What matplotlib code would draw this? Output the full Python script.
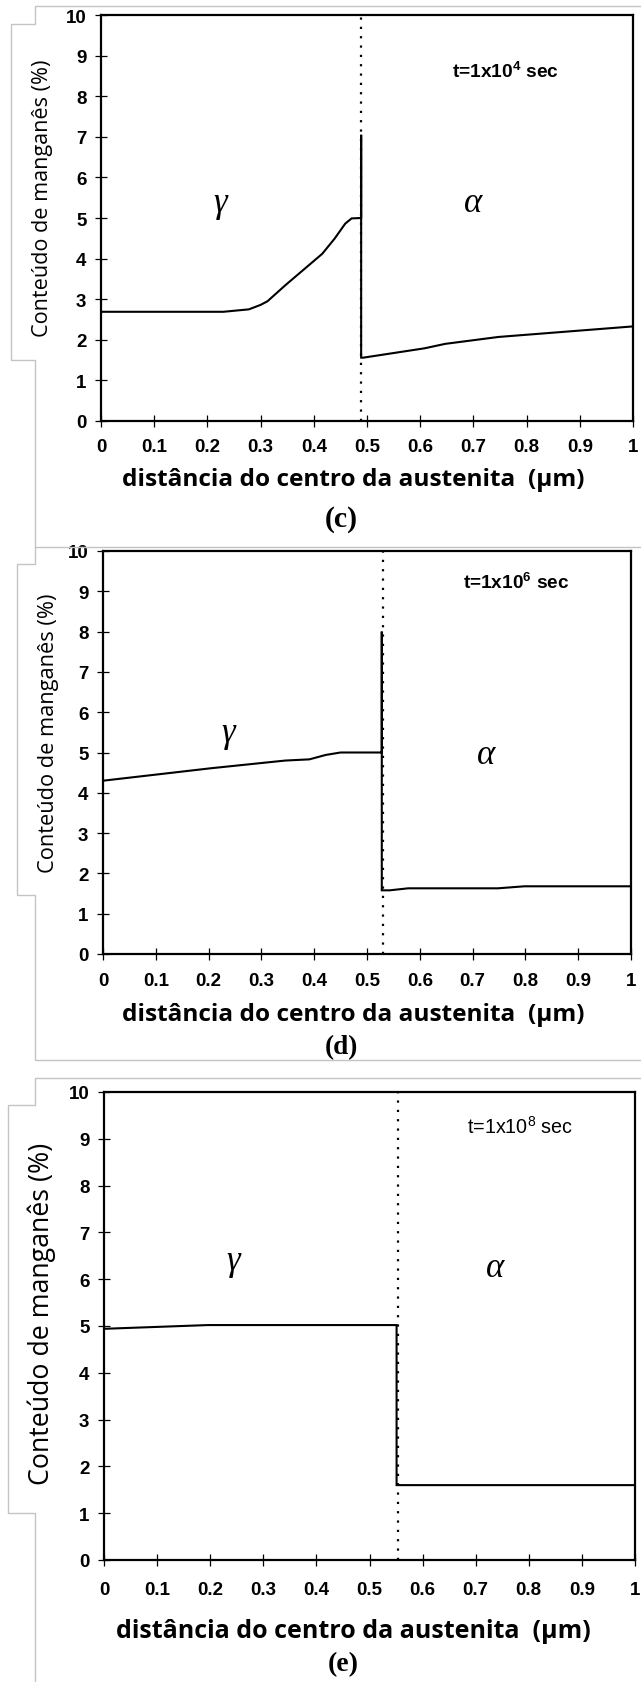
import matplotlib
matplotlib.use("Agg")
import matplotlib.pyplot as plt
from matplotlib.lines import Line2D

plt.rcParams['mathtext.default'] = 'regular'

W, H = 641, 1683

# ---------------- data ----------------
x_ticks = [0, 0.1, 0.2, 0.3, 0.4, 0.5, 0.6, 0.7, 0.8, 0.9, 1]
x_ticklabels = ["0", "0.1", "0.2", "0.3", "0.4", "0.5", "0.6", "0.7", "0.8", "0.9", "1"]
y_ticks = [0, 1, 2, 3, 4, 5, 6, 7, 8, 9, 10]

# panel (c) t = 1e4 s
c_gamma_x = [0, 0.23, 0.278, 0.30, 0.313, 0.347, 0.382, 0.416, 0.439, 0.459, 0.471, 0.489]
c_gamma_y = [2.69, 2.69, 2.75, 2.86, 2.95, 3.35, 3.74, 4.12, 4.49, 4.86, 4.99, 5.0]
c_interface = 0.489
c_peak = 7.05
c_alpha_x = [0.493, 0.608, 0.647, 0.747, 1.0]
c_alpha_y = [1.56, 1.79, 1.90, 2.07, 2.33]

# panel (d) t = 1e6 s
d_gamma_x = [0, 0.205, 0.345, 0.391, 0.422, 0.45, 0.528]
d_gamma_y = [4.30, 4.61, 4.80, 4.83, 4.94, 5.0, 5.0]
d_interface = 0.530
d_peak = 8.0
d_alpha_x = [0.528, 0.543, 0.578, 0.748, 0.798, 1.0]
d_alpha_y = [1.58, 1.58, 1.63, 1.63, 1.68, 1.68]

# panel (e) t = 1e8 s
e_gamma_x = [0, 0.196, 0.551]
e_gamma_y = [4.94, 5.02, 5.02]
e_interface = 0.553
e_alpha_x = [0.551, 1.0]
e_alpha_y = [1.60, 1.60]

times = ["t=1x10$^{4}$ sec", "t=1x10$^{6}$ sec", "t=1x10$^{8}$ sec"]
panel_tags = ["(c)", "(d)", "(e)"]
ylabel = "Conteúdo de manganês (%)"
xlabel = "distância do centro da austenita  (µm)"

# ---------------- figure ----------------
fig = plt.figure(figsize=(W / 100, H / 100), dpi=100)

def fx(px):
    return px / W

def fy(py):
    return 1 - py / H

# gray document text-box outlines
gray = "#c4c4c4"
box_lines = [
    ([641, 35, 35, 11, 11, 35, 35, 17, 17, 35, 35, 641],
     [7, 7, 25, 25, 361, 361, 565, 565, 896, 896, 1061, 1061]),
    ([35, 641], [548, 548]),
    ([641, 35, 35, 8, 8, 35, 35],
     [1079, 1079, 1106, 1106, 1514, 1514, 1683]),
]
for xs, ys in box_lines:
    fig.add_artist(Line2D([fx(v) for v in xs], [fy(v) for v in ys],
                          color=gray, lw=1.0, transform=fig.transFigure))

# axes boxes in pixels: left, right, top, bottom
boxes = [(101, 633, 16, 422), (103, 631, 552, 955), (104, 635, 1093, 1561)]
panels = [
    (c_gamma_x, c_gamma_y, c_interface, c_peak, c_alpha_x, c_alpha_y),
    (d_gamma_x, d_gamma_y, d_interface, d_peak, d_alpha_x, d_alpha_y),
    (e_gamma_x, e_gamma_y, e_interface, None, e_alpha_x, e_alpha_y),
]
t_pos = [(0.76, 8.62), (0.782, 9.24), (0.783, 9.27)]
t_bold = [True, True, False]
g_pos = [(0.224, 5.37), (0.238, 5.5), (0.243, 6.39)]
a_pos = [(0.70, 5.39), (0.725, 4.94), (0.736, 6.24)]
xpads = [8.3, 9.0, 11.0]
# (x px, y px, target length px)
ylab_pos = [(43, 198, 277), (49, 733, 279), (42, 1314, 342)]
xlab_pos = [(353, 480, 462), (353, 1015, 462), (353, 1632, 474)]
t_len = [107, 106, 106]
tag_pos = [(341, 520, 33), (341, 1048, 33), (343, 1665, 31)]

fit = []  # (text artist, target px, rotated?)

for i, (l, r, t, b) in enumerate(boxes):
    ax = fig.add_axes([fx(l), fy(b), fx(r) - fx(l), (b - t) / H])
    gx, gy, xi, peak, axx, ayy = panels[i]
    ax.set_xlim(0, 1)
    ax.set_ylim(0, 10)
    # dotted interface line
    ax.plot([xi, xi], [0, 10], color="black", lw=1.6, linestyle=(0, (1, 3.2)))
    # concentration profile
    xs = list(gx)
    ys = list(gy)
    if peak is not None:
        xs += [gx[-1], gx[-1]]
        ys += [peak, ayy[0]]
    else:
        xs += [gx[-1]]
        ys += [ayy[0]]
    xs += list(axx)
    ys += list(ayy)
    ax.plot(xs, ys, color="black", lw=1.5, solid_joinstyle="miter")

    ax.set_xticks(x_ticks)
    ax.set_xticklabels(x_ticklabels)
    ax.set_yticks(y_ticks)
    for s in ax.spines.values():
        s.set_linewidth(1.6)
    ax.tick_params(axis="both", direction="inout", length=8, width=0.9,
                   labelsize=13.5)
    ax.tick_params(axis="x", pad=xpads[i])
    ax.tick_params(axis="y", pad=6.5)
    for lab in ax.get_xticklabels() + ax.get_yticklabels():
        lab.set_fontfamily("Liberation Sans")
        lab.set_fontweight("bold")

    tt = ax.text(t_pos[i][0], t_pos[i][1], times[i], ha="center", va="center",
                 fontsize=14, family="Liberation Sans",
                 fontweight="bold" if t_bold[i] else "normal")
    fit.append((tt, t_len[i], False))
    ax.text(g_pos[i][0], g_pos[i][1], "γ", ha="center", va="center",
            fontsize=25, family="Liberation Serif", style="italic")
    ax.text(a_pos[i][0], a_pos[i][1], "α", ha="center", va="center",
            fontsize=25, family="Liberation Serif", style="italic")

    yx, yy, yl = ylab_pos[i]
    yt = fig.text(fx(yx), fy(yy), ylabel, rotation=90, ha="center", va="center",
                  fontsize=16, family="Open Sans")
    fit.append((yt, yl, True))
    xx, xy, xl = xlab_pos[i]
    xt = fig.text(fx(xx), fy(xy), xlabel, ha="center", va="center",
                  fontsize=17.6, family="Open Sans", fontweight="bold")
    fit.append((xt, xl, False))
    tx, ty, tl = tag_pos[i]
    tg = fig.text(fx(tx), fy(ty), panel_tags[i], ha="center", va="center",
                  fontsize=20, family="Liberation Serif", fontweight="bold")
    fit.append((tg, tl, False))

# scale font sizes so text lengths match the reference
for _ in range(2):
    fig.canvas.draw()
    renderer = fig.canvas.get_renderer()
    for art, target, rot in fit:
        bb = art.get_window_extent(renderer)
        cur = bb.height if rot else bb.width
        if cur > 0:
            art.set_fontsize(art.get_fontsize() * target / cur)

fig.savefig("out.png", dpi=100, facecolor="white")
